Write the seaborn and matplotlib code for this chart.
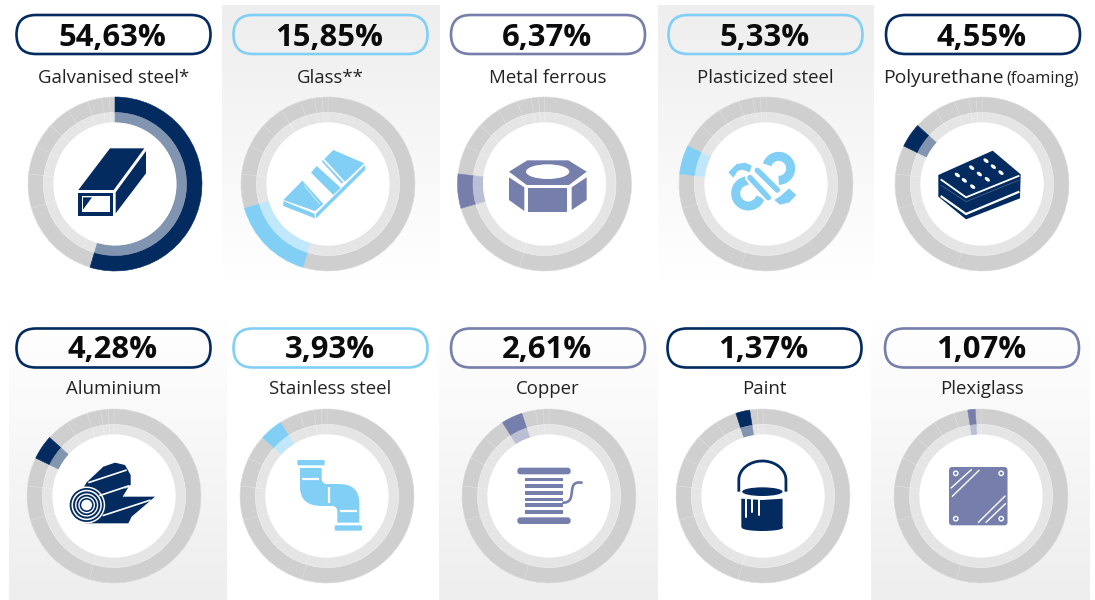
import numpy as np
import matplotlib
matplotlib.use("Agg")
import matplotlib.pyplot as plt
import seaborn as sns
from matplotlib.patches import Polygon, Circle, Ellipse, FancyBboxPatch, PathPatch
from matplotlib.path import Path

materials = ["Galvanised steel*", "Glass**", "Metal ferrous", "Plasticized steel", "Polyurethane",
             "Aluminium", "Stainless steel", "Copper", "Paint", "Plexiglass"]
shares = [54.63, 15.85, 6.37, 5.33, 4.55, 4.28, 3.93, 2.61, 1.37, 1.07]
share_labels = ["54,63%", "15,85%", "6,37%", "5,33%", "4,55%", "4,28%", "3,93%", "2,61%", "1,37%", "1,07%"]
# which slice is lit in each donut: from Aluminium on the original lights the slice before its own
lit_slice = [0, 1, 2, 3, 4, 4, 5, 6, 7, 8]

NAVY = "#032b60"
BLUE = "#82cff5"
SLATE = "#767fab"
panel_colors = [NAVY, BLUE, SLATE, BLUE, NAVY, NAVY, BLUE, SLATE, NAVY, SLATE]

W, H = 1095, 600
ring_x = [115, 328, 544.5, 766, 982, 114, 327, 549, 763, 981]
pill_x = [113.5, 330.5, 548, 765.5, 983, 113.5, 330.5, 548, 764.5, 982]
ring_y = [184, 496]
pill_y = [34.5, 348]
label_y = [83, 394]
value_y = [46, 358.5]
R_OUT, R_MID, R_IN = 87, 71.5, 61.5

sns.set_theme(style="white")
plt.rcParams["font.family"] = ["Open Sans", "DejaVu Sans"]

fig = plt.figure(figsize=(W / 100, H / 100), dpi=100, facecolor="white")


def px_axes(zorder):
    ax = fig.add_axes([0, 0, 1, 1], zorder=zorder)
    ax.set_xlim(0, W)
    ax.set_ylim(H, 0)
    ax.axis("off")
    ax.patch.set_alpha(0)
    return ax


bg = px_axes(0)
fg = px_axes(2)

# shaded panels behind some of the donuts
fade_down = np.array(sns.blend_palette(["#eeeeee", "#ffffff"], 64)).reshape(64, 1, 3)
fade_up = np.array(sns.blend_palette(["#ffffff", "#eeeeee"], 64)).reshape(64, 1, 3)
for x0, x1, y0, y1, img in [(222, 440, 5, 282, fade_down), (658, 874, 5, 282, fade_down),
                            (9, 227, 317, 600, fade_up), (439, 658, 317, 600, fade_up),
                            (871, 1090, 317, 600, fade_up)]:
    bg.imshow(img, extent=(x0, x1, y1, y0), aspect="auto", interpolation="bilinear")
bg.set_xlim(0, W)
bg.set_ylim(H, 0)

# donuts
pad = 3
for i, (cx, col) in enumerate(zip(ring_x, panel_colors)):
    cy = ring_y[i // 5]
    lit = lit_slice[i]
    s = R_OUT + pad
    ax = fig.add_axes([(cx - s) / W, 1 - (cy + s) / H, 2 * s / W, 2 * s / H], zorder=1)
    tint = sns.blend_palette([col, "#ffffff"], 3)[1]
    outer = ["#cfcfcf"] * len(shares)
    inner = ["#e5e5e5"] * len(shares)
    outer[lit] = col
    inner[lit] = tint
    w_out, _ = ax.pie(shares, radius=R_OUT, colors=outer, startangle=90, counterclock=False,
                      wedgeprops=dict(width=R_OUT - R_MID, edgecolor="#dcdcdc", linewidth=0.4))
    w_in, _ = ax.pie(shares, radius=R_MID, colors=inner, startangle=90, counterclock=False,
                     wedgeprops=dict(width=R_MID - R_IN, edgecolor="#eeeeee", linewidth=0.4))
    w_out[lit].set_edgecolor(col)
    w_in[lit].set_edgecolor(tint)
    w_out[lit].set_zorder(3)
    w_in[lit].set_zorder(3)
    ax.add_patch(Circle((0, 0), R_IN, fc="white", ec="none", zorder=4))
    ax.set_xlim(-s, s)
    ax.set_ylim(-s, s)
    ax.patch.set_alpha(0)

# pills and text
for i, (px, col) in enumerate(zip(pill_x, panel_colors)):
    row = i // 5
    py = pill_y[row]
    fg.add_patch(FancyBboxPatch((px - 97, py - 19.5), 194, 39,
                                boxstyle="round,pad=0,rounding_size=19.5", fc="none", ec=col, lw=1.9))
    fg.text(px - 1, value_y[row], share_labels[i], ha="center", va="baseline", fontsize=22.3,
            fontweight="bold", color="#0b0b0b")
    if materials[i] == "Polyurethane":
        fg.text(1003.5, label_y[row], "Polyurethane", ha="right", va="baseline", fontsize=13.9, color="#222222")
        fg.text(1006, label_y[row], "(foaming)", ha="left", va="baseline", fontsize=11.8, color="#222222")
    else:
        fg.text(px, label_y[row], materials[i], ha="center", va="baseline", fontsize=13.4, color="#222222")


# icon outlines are traced in zoomed pixels, so each shape gets an origin and a scale
def pts(o, coords, sx=3.0, sy=3.0):
    return [(o[0] + x / sx, o[1] + y / sy) for x, y in coords]


def poly(o, coords, col, sx=3.0, sy=3.0):
    fg.add_patch(Polygon(pts(o, coords, sx, sy), closed=True, fc=col, ec="none"))


def line(o, coords, col, lw, cap="butt", sx=3.0, sy=3.0):
    p = np.array(pts(o, coords, sx, sy))
    fg.plot(p[:, 0], p[:, 1], color=col, lw=lw, solid_capstyle=cap, solid_joinstyle="miter")


def arc(o, c, r, t0, t1, col, lw):
    t = np.radians(np.linspace(t0, t1, 50))
    line(o, np.column_stack([c[0] + r * np.cos(t), c[1] + r * np.sin(t)]), col, lw)


def pill_bar(o, x0, y0, x1, y1, col, round_px=2.5):
    a = pts(o, [(x0, y0), (x1, y1)])
    fg.add_patch(FancyBboxPatch(a[0], a[1][0] - a[0][0], a[1][1] - a[0][1],
                                boxstyle=f"round,pad=0,rounding_size={round_px}", fc=col, ec="none"))


# galvanised steel tube
o = (65, 135)
poly(o, [(135, 40), (238, 40), (146, 165), (40, 165)], NAVY)
poly(o, [(243, 48), (243, 115), (152, 235), (152, 172)], NAVY)
poly(o, [(40, 173), (145, 173), (145, 242), (40, 242)], NAVY)
poly(o, [(50, 183), (135, 183), (135, 232), (50, 232)], "white")
poly(o, [(54, 187), (81, 187), (54, 224)], NAVY)

# glass
o = (275, 135)
poly(o, [(175, 45), (268, 85), (210, 140), (148, 72)], BLUE)
poly(o, [(143, 75), (205, 142), (200, 146), (141, 80)], BLUE)
poly(o, [(125, 93), (197, 158), (175, 180), (108, 113)], BLUE)
poly(o, [(82, 137), (145, 207), (120, 228), (25, 195)], BLUE)
line(o, [(88, 152), (135, 208)], "white", 0.4)
poly(o, [(25, 198), (118, 236), (120, 250), (25, 213)], BLUE)
poly(o, [(270, 90), (270, 105), (123, 250), (123, 236)], BLUE)

# nut
o = (495, 135)
poly(o, [(97, 76), (220, 76), (275, 110), (222, 150), (95, 150), (42, 110)], SLATE)
fg.add_patch(Ellipse(pts(o, [(158, 110)])[0], 130 / 3, 44 / 3, fc="white", ec="none"))
poly(o, [(42, 127), (88, 157), (88, 228), (42, 195)], SLATE)
poly(o, [(100, 160), (216, 160), (216, 232), (100, 232)], SLATE)
poly(o, [(230, 157), (275, 127), (275, 195), (230, 225)], SLATE)

# plastic chain
o = (715, 135)
arc(o, (191, 100), 36, 197, 450, BLUE, 6.5)
arc(o, (100, 175), 38, 17, 270, BLUE, 6.5)
poly(o, [(40, 112), (65, 87), (90, 83), (110, 92), (104, 112), (82, 104), (68, 108), (55, 128)], BLUE)
poly(o, [(178, 195), (198, 182), (222, 160), (244, 180), (222, 203), (195, 209)], BLUE)
line(o, [(105, 128), (160, 188)], "white", 7.0, cap="round")
line(o, [(127, 106), (187, 165)], "white", 7.0, cap="round")
line(o, [(105, 128), (160, 188)], BLUE, 4.0, cap="round")
line(o, [(127, 106), (187, 165)], BLUE, 4.0, cap="round")

# polyurethane panels
o = (930, 135)
poly(o, [(25, 120), (188, 47), (272, 118), (270, 190), (108, 253), (25, 185)], NAVY)
line(o, [(32, 133), (108, 187), (268, 122)], "white", 1.3)
line(o, [(32, 183), (108, 237), (268, 170)], "white", 1.6)
line(o, [(32, 150), (108, 200), (268, 135)], "#5f7696", 0.4)
for x, y in [(82, 120), (103, 136), (128, 155), (125, 98), (148, 117), (172, 133), (168, 77), (190, 95), (213, 113)]:
    fg.add_patch(Ellipse(pts(o, [(x, y)])[0], 6, 3.4, angle=38, fc="white", ec="none"))

# aluminium roll
o = (60, 450)
poly(o, [(80, 97), (130, 50), (165, 38), (195, 45), (212, 75), (212, 105), (190, 118), (205, 112), (188, 140),
         (285, 140), (215, 200), (205, 220), (75, 220), (40, 165)], NAVY)
line(o, [(85, 98), (200, 60)], "white", 1.2)
line(o, [(118, 137), (208, 107)], "white", 1.2)
line(o, [(128, 197), (272, 150)], "white", 1.2)
c = pts(o, [(80, 165)])[0]
for r, col in [(18.5, "white"), (17, NAVY), (15.2, "white"), (13.6, NAVY), (11.6, "white"), (10.2, NAVY),
               (8.4, "white"), (7, NAVY), (5.4, "white")]:
    fg.add_patch(Circle(c, r, fc=col, ec="none"))

# stainless pipe
o = (280, 450)
pill_bar(o, 52, 30, 134, 46, BLUE, 1.2)
pill_bar(o, 164, 226, 246, 242, BLUE, 1.2)
verts = pts(o, [(60, 54), (125, 54), (125, 85), (125, 102), (142, 102), (178, 102), (238, 102), (238, 160),
                (238, 218), (172, 218), (172, 185), (172, 168), (155, 168), (125, 168), (60, 168), (60, 110), (60, 54)])
codes = [Path.MOVETO, Path.LINETO, Path.LINETO, Path.CURVE3, Path.CURVE3, Path.LINETO, Path.CURVE3, Path.CURVE3,
         Path.LINETO, Path.LINETO, Path.LINETO, Path.CURVE3, Path.CURVE3, Path.LINETO, Path.CURVE3, Path.CURVE3,
         Path.LINETO]
fg.add_patch(PathPatch(Path(verts, codes), fc=BLUE, ec="none"))
line(o, [(67, 87), (118, 87)], "white", 1.6)
line(o, [(148, 112), (148, 160)], "white", 1.6)
line(o, [(180, 184), (230, 184)], "white", 1.6)

# copper spool
o = (500, 450)
pill_bar(o, 52, 53, 212, 73, SLATE, 3)
pill_bar(o, 52, 202, 212, 222, SLATE, 3)
for y0, y1 in [(84, 92), (103, 113), (123, 134), (143, 152), (160, 170), (180, 192)]:
    poly(o, [(75, y0), (190, y0), (190, y1), (75, y1)], SLATE)
t = np.linspace(0, 1, 30)
curve = np.column_stack([(1 - t) ** 3 * 190 + 3 * (1 - t) ** 2 * t * 235 + 3 * (1 - t) * t ** 2 * 195 + t ** 3 * 245,
                         (1 - t) ** 3 * 158 + 3 * (1 - t) ** 2 * t * 158 + 3 * (1 - t) * t ** 2 * 90 + t ** 3 * 98])
line(o, curve, SLATE, 1.9, cap="round")

o, sx, sy = (438.3, 300), 2.376, 3.0
t = np.radians(np.linspace(180, 360, 40))
handle = np.column_stack([770 + 56 * np.cos(t), 540 + 57 * np.sin(t)])
line(o, np.vstack([[(714, 575)], handle, [(826, 575)]]), NAVY, 2.0, sx=sx, sy=sy)
fg.add_patch(Ellipse(pts(o, [(770, 578)], sx, sy)[0], 104 / sx, 42 / sy, fc="white", ec="none"))
fg.add_patch(Ellipse(pts(o, [(770, 575)], sx, sy)[0], 96 / sx, 26 / sy, fc=NAVY, ec="none"))
poly(o, [(720, 596), (770, 600), (818, 596), (818, 682), (770, 692), (720, 682)], NAVY, sx=sx, sy=sy)
fg.add_patch(Ellipse(pts(o, [(770, 683)], sx, sy)[0], 98 / sx, 20 / sy, fc=NAVY, ec="none"))
for x, y1 in [(731, 650), (746, 637), (763, 645)]:
    line(o, [(x, 598), (x, y1)], "white", 1.4, cap="round", sx=sx, sy=sy)

# plexiglass sheet
o = (436.4, 300)
a = pts(o, [(1218, 501), (1357, 676)], sx, sy)
fg.add_patch(FancyBboxPatch(a[0], a[1][0] - a[0][0], a[1][1] - a[0][1],
                            boxstyle="round,pad=0,rounding_size=3", fc=SLATE, ec="none"))
for x, y in [(1234, 520), (1342, 520), (1234, 656), (1342, 656)]:
    fg.add_patch(Circle(pts(o, [(x, y)], sx, sy)[0], 2.2, fc=SLATE, ec="white", lw=1))
for seg in [[(1222, 565), (1272, 508)], [(1225, 590), (1290, 510)], [(1287, 668), (1352, 587)], [(1305, 668), (1353, 610)]]:
    line(o, seg, "white", 1.0, sx=sx, sy=sy)

fig.savefig("out.png", dpi=100)
